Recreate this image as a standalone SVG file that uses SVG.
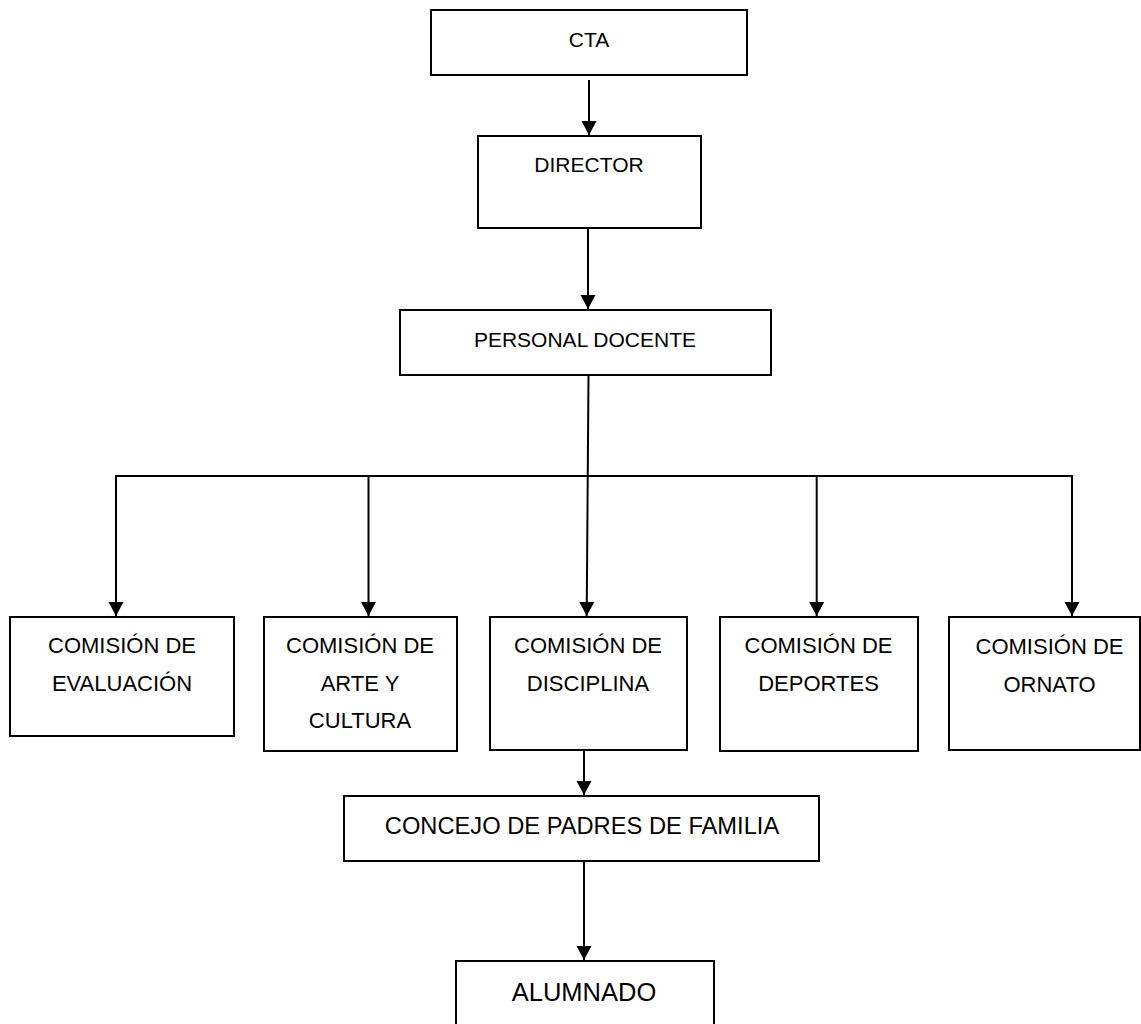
<svg xmlns="http://www.w3.org/2000/svg" width="1141" height="1024" viewBox="0 0 1141 1024">
<style>
.box{fill:#fff;stroke:#000;stroke-width:2}
.lbl{font-family:"Liberation Sans",Arial,sans-serif;fill:#000;text-anchor:middle}
.s21{font-size:21px}
.s22{font-size:22px}
.s24{font-size:23.7px}
.s25{font-size:25.5px}
.con{fill:none;stroke:#000;stroke-width:2}
</style>
<defs>
<marker id="arr" markerUnits="userSpaceOnUse" markerWidth="16" markerHeight="16" viewBox="0 0 16 16" refX="14" refY="8" orient="auto">
<path d="M0,0.5 L14,8 L0,15.5 Z" fill="#000"/>
</marker>
</defs>
<rect width="1141" height="1024" fill="#fff"/>
<g id="connectors">
<line class="con" x1="589" y1="80" x2="589" y2="135" marker-end="url(#arr)"/>
<line class="con" x1="588" y1="228" x2="588" y2="309" marker-end="url(#arr)"/>
<line class="con" x1="588.5" y1="375" x2="586.7" y2="616" marker-end="url(#arr)"/>
<line class="con" x1="116" y1="476" x2="1073" y2="476"/>
<line class="con" x1="116" y1="475" x2="116" y2="616" marker-end="url(#arr)"/>
<line class="con" x1="368.5" y1="475" x2="368.5" y2="616" marker-end="url(#arr)"/>
<line class="con" x1="816.7" y1="475" x2="816.7" y2="616" marker-end="url(#arr)"/>
<line class="con" x1="1072" y1="475" x2="1072" y2="616" marker-end="url(#arr)"/>
<line class="con" x1="584" y1="750" x2="584" y2="795" marker-end="url(#arr)"/>
<line class="con" x1="584" y1="861" x2="584" y2="960" marker-end="url(#arr)"/>
</g>
<g id="cta">
<rect class="box" x="431" y="10" width="316" height="65"/>
<text class="lbl s21" x="589" y="47">CTA</text>
</g>
<g id="director">
<rect class="box" x="478" y="136" width="223" height="92"/>
<text class="lbl s21" x="589" y="172">DIRECTOR</text>
</g>
<g id="personal-docente">
<rect class="box" x="400" y="310" width="371" height="65"/>
<text class="lbl s21" x="585" y="347">PERSONAL DOCENTE</text>
</g>
<g id="comision-evaluacion">
<rect class="box" x="10" y="617" width="224" height="119"/>
<text class="lbl s22" x="122" y="653">COMISIÓN DE</text>
<text class="lbl s22" x="122" y="691">EVALUACIÓN</text>
</g>
<g id="comision-arte">
<rect class="box" x="264" y="617" width="193" height="134"/>
<text class="lbl s22" x="360" y="653">COMISIÓN DE</text>
<text class="lbl s22" x="360" y="691">ARTE Y</text>
<text class="lbl s22" x="360" y="728">CULTURA</text>
</g>
<g id="comision-disciplina">
<rect class="box" x="490" y="617" width="197" height="133"/>
<text class="lbl s22" x="588" y="653">COMISIÓN DE</text>
<text class="lbl s22" x="588" y="691">DISCIPLINA</text>
</g>
<g id="comision-deportes">
<rect class="box" x="720" y="617" width="198" height="134"/>
<text class="lbl s22" x="818.5" y="653">COMISIÓN DE</text>
<text class="lbl s22" x="818.5" y="691">DEPORTES</text>
</g>
<g id="comision-ornato">
<rect class="box" x="949" y="617" width="191" height="133"/>
<text class="lbl s22" x="1049.5" y="654">COMISIÓN DE</text>
<text class="lbl s22" x="1049.5" y="692">ORNATO</text>
</g>
<g id="concejo">
<rect class="box" x="344" y="796" width="475" height="65"/>
<text class="lbl s24" x="582" y="834">CONCEJO DE PADRES DE FAMILIA</text>
</g>
<g id="alumnado">
<rect class="box" x="456" y="961" width="258" height="80"/>
<text class="lbl s25" x="584" y="1001">ALUMNADO</text>
</g>
</svg>
